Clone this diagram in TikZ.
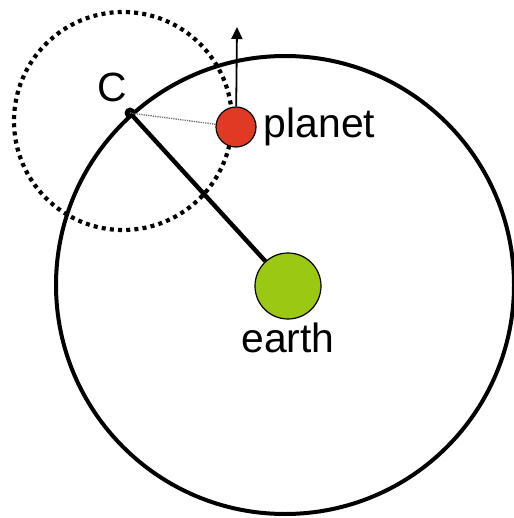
\documentclass[tikz,border=0pt]{standalone}
\usepackage{fontspec}
\setmainfont{Liberation Sans}
\usetikzlibrary{positioning,arrows.meta}
\definecolor{planetred}{HTML}{E03A24}
\definecolor{earthgreen}{HTML}{9BC812}
\definecolor{inkgray}{HTML}{6E6E6E}

\begin{document}
\begin{tikzpicture}[
    x=1bp, y=-1bp,
    body/.style={circle, draw=black, line width=1.2bp, inner sep=0pt},
    lbl/.style={font=\fontsize{41}{44}\selectfont, inner sep=1bp},
    orbit/.style={line width=4bp},
    epicycle/.style={line width=4.2bp, dash pattern=on 4bp off 4.2bp},
    motion/.style={-{Triangle[length=12bp, width=11bp]}, line width=1.8bp}]
  \useasboundingbox (0,0) rectangle (514,518);
  % deferent and epicycle
  \draw[orbit] (285,285) circle[radius=229];
  \draw[epicycle] (123,121) circle[radius=109];
  % bodies
  \node[body, fill=earthgreen, minimum size=66bp] (earth) at (288,286) {};
  \node[circle, fill=black, minimum size=11bp, inner sep=0pt] (C) at (130,113) {};
  \node[body, fill=planetred, minimum size=40bp] (planet) at (236,127) {};
  \coordinate (tip) at (237,27);
  % labels
  \node[lbl, below=2bp of earth] (earthlbl) {earth};
  \node[lbl, right=6bp of planet] (planetlbl) {planet};
  \node[lbl, above left=6bp and -2bp of C] (Clbl) {C};
  % connectors
  \draw[line width=4.4bp] (C.center) -- (earth);
  \draw[densely dotted, inkgray, line width=1.3bp] (C.center) -- (planet);
  \draw[motion] (planet) -- (tip);
\end{tikzpicture}
\end{document}
